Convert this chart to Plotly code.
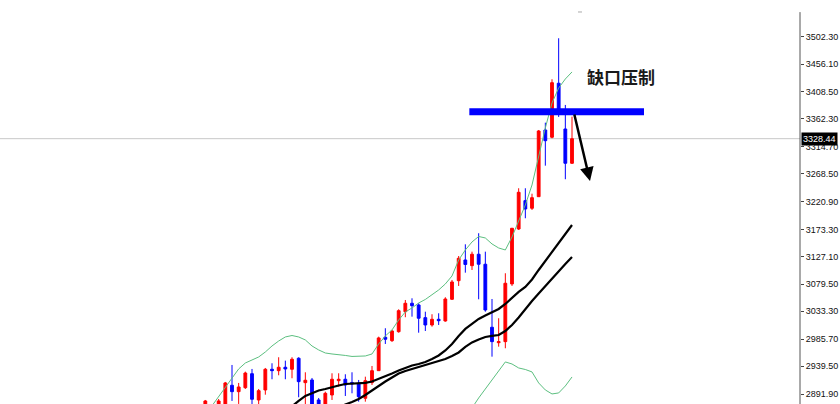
import plotly.graph_objects as go

# ---------------- data ----------------
open_ = [2871.5, 2871.5, 2871.5, 2871.5, 2906.9, 2896.0, 2902.8, 2926.7, 2881.8, 2898.9,
         2934.3, 2931.9, 2937.7, 2934.3, 2953.1, 2911.4, 2916.0, 2881.8, 2871.5, 2890.3,
         2914.8, 2917.2, 2911.7, 2910.3, 2884.7, 2911.4, 2931.9, 2989.0, 2983.2, 2998.5,
         3032.7, 3047.1, 3044.2, 3022.5, 3010.0, 3019.7, 3016.8, 3053.9, 3085.7, 3121.1,
         3111.4, 3130.9, 3113.8, 3006.1, 2979.7, 2981.5, 3080.1, 3174.1, 3222.5, 3209.5,
         3229.3, 3343.3, 3330.9, 3423.2, 3345.0, 3286.4]
high = [2881.8, 2873.2, 2883.5, 2912.6, 2941.6, 2910.9, 2930.2, 2934.8, 2900.6, 2936.5,
        2944.5, 2954.8, 2949.0, 2954.8, 2954.8, 2929.1, 2919.4, 2885.2, 2896.0, 2927.4,
        2927.4, 2925.7, 2929.1, 2916.0, 2921.6, 2939.9, 2990.0, 3004.4, 3001.5, 3036.8,
        3052.7, 3055.6, 3047.1, 3032.7, 3028.3, 3030.0, 3057.4, 3086.9, 3127.9, 3147.9,
        3135.3, 3166.8, 3135.3, 3054.4, 3021.5, 3098.4, 3175.8, 3243.7, 3243.7, 3234.4,
        3343.3, 3355.8, 3430.0, 3500.1, 3386.1, 3366.1]
low = [2864.7, 2857.9, 2868.1, 2868.1, 2880.1, 2875.0, 2900.6, 2871.5, 2871.5, 2890.8,
       2917.2, 2924.0, 2917.2, 2918.9, 2886.4, 2871.5, 2864.7, 2864.7, 2868.1, 2881.8,
       2904.5, 2888.6, 2893.2, 2878.9, 2878.9, 2907.4, 2931.4, 2977.5, 2980.9, 2996.8,
       3023.2, 3024.2, 2996.8, 2999.7, 3007.1, 3010.0, 3015.6, 3052.7, 3076.7, 3099.4,
       3104.0, 3053.9, 3032.7, 2955.8, 2972.9, 2970.2, 3076.7, 3172.4, 3192.4, 3206.6,
       3228.8, 3282.3, 3329.1, 3365.6, 3259.1, 3285.2]
close = [2880.1, 2863.0, 2880.1, 2910.9, 2896.0, 2904.0, 2927.9, 2883.0, 2897.7, 2934.3,
         2931.9, 2937.7, 2934.8, 2951.4, 2913.1, 2915.5, 2871.5, 2871.5, 2893.2, 2917.2,
         2917.2, 2907.4, 2909.1, 2887.4, 2914.8, 2931.9, 2987.8, 2985.6, 2999.7, 3034.4,
         3047.1, 3043.0, 3021.5, 3010.0, 3019.7, 3017.3, 3054.4, 3083.5, 3124.0, 3113.4,
         3130.9, 3113.8, 3035.6, 2981.5, 2981.5, 3081.3, 3175.3, 3236.8, 3208.3, 3227.6,
         3341.6, 3325.0, 3424.2, 3374.1, 3286.4, 3328.44]

upper_band = [2856.1, 2871.5, 2888.6, 2902.3, 2919.4, 2934.8, 2945.0, 2950.2, 2955.3, 2963.8,
              2974.1, 2982.6, 2989.5, 2992.0, 2989.5, 2984.4, 2974.1, 2967.3, 2962.1, 2960.4,
              2959.6, 2957.9, 2956.2, 2956.2, 2957.0, 2960.4, 2977.5, 2991.2, 3001.5, 3018.5,
              3032.2, 3039.1, 3047.6, 3053.6, 3061.3, 3069.8, 3080.1, 3093.8, 3121.1, 3138.2,
              3151.9, 3161.3, 3158.7, 3148.5, 3141.6, 3138.2, 3160.4, 3189.5, 3215.1, 3249.3,
              3298.9, 3346.8, 3389.5, 3415.1, 3430.5, 3442.5]
lower_band = [None] * 39 + [2847.6, 2868.1, 2885.2, 2900.6, 2917.7, 2933.1, 2946.8, 2943.3,
                            2936.5, 2933.9, 2929.7, 2910.9, 2898.9, 2892.1, 2893.8, 2905.7, 2921.1]
ma_fast = [None] * 12 + [2862.0, 2871.5, 2880.1, 2888.6, 2893.8, 2898.0, 2900.6, 2904.0, 2906.6,
                         2909.1, 2910.0, 2910.3, 2910.9, 2913.4, 2917.7, 2922.8, 2927.1, 2932.2,
                         2936.5, 2940.8, 2943.3, 2946.8, 2951.9, 2957.9, 2966.4, 2977.5, 2991.2,
                         3003.2, 3011.7, 3020.3, 3026.2, 3031.4, 3037.4, 3045.9, 3057.0, 3066.4,
                         3075.0, 3087.8, 3104.0, 3119.4, 3134.8, 3151.9, 3167.3, 3180.9]
ma_slow = [None] * 20 + [2868.1, 2874.1, 2878.4, 2883.5, 2890.3, 2898.0, 2906.6, 2913.4, 2920.3,
                         2927.1, 2931.4, 2934.8, 2938.2, 2941.6, 2944.2, 2948.5, 2951.9, 2957.0,
                         2963.0, 2972.4, 2980.1, 2985.2, 2989.5, 2991.2, 2992.9, 2999.7, 3010.0,
                         3022.8, 3037.4, 3051.0, 3063.8, 3076.7, 3089.5, 3102.3, 3114.3, 3126.2]

tick_vals = [3502.30, 3456.10, 3408.50, 3362.30, 3314.70, 3268.50, 3220.90, 3173.30,
             3127.10, 3079.50, 3033.30, 2985.70, 2939.50, 2891.90]
tick_text = ["%.2f" % v for v in tick_vals]

last_price = 3328.44
gap_level = 3374.6
label_text = "缺口压制"

x = list(range(len(open_)))

# ---------------- figure ----------------
fig = go.Figure()

band_color = "#5CBF80"
fig.add_trace(go.Scatter(x=x, y=upper_band, mode="lines",
                         line=dict(color=band_color, width=1), hoverinfo="skip"))
fig.add_trace(go.Scatter(x=x, y=lower_band, mode="lines",
                         line=dict(color=band_color, width=1), hoverinfo="skip"))
fig.add_trace(go.Scatter(x=x, y=ma_fast, mode="lines",
                         line=dict(color="#000000", width=2.2), hoverinfo="skip"))
fig.add_trace(go.Scatter(x=x, y=ma_slow, mode="lines",
                         line=dict(color="#000000", width=2.2), hoverinfo="skip"))

fig.add_trace(go.Candlestick(
    x=x, open=open_, high=high, low=low, close=close,
    increasing=dict(line=dict(color="#FF0000", width=1), fillcolor="#FF0000"),
    decreasing=dict(line=dict(color="#0000FF", width=1), fillcolor="#0000FF"),
    whiskerwidth=0,
))

y_min, y_max = 2874.9, 3565.5

shapes = [
    # current price line
    dict(type="line", xref="paper", x0=0, x1=1, yref="y", y0=last_price, y1=last_price,
         line=dict(color="#C8C8C8", width=1), layer="below"),
    # right axis line
    dict(type="line", xref="paper", x0=1, x1=1, yref="paper", y0=0, y1=0.97,
         line=dict(color="#555555", width=1)),
    # gap resistance bar
    dict(type="line", xref="x", x0=39.6, x1=65.8, yref="y", y0=gap_level, y1=gap_level,
         line=dict(color="#0000FF", width=7)),
    # small mark at top
    dict(type="line", xref="x", x0=55.9, x1=56.5, yref="y", y0=3545.0, y1=3545.0,
         line=dict(color="#AAAAAA", width=1)),
]

annotations = [
    dict(x=57.7, y=3256.1, ax=55.3, ay=3372.4, xref="x", yref="y", axref="x", ayref="y",
         showarrow=True, arrowhead=2, arrowsize=1.1, arrowwidth=2.5, arrowcolor="#000000", text=""),
    dict(x=62.4, y=3433.9, xref="x", yref="y", text="<b>" + label_text + "</b>", showarrow=False,
         font=dict(family="Noto Sans CJK SC", size=17, color="#1a1a1a"), xanchor="center",
         yanchor="middle"),
    dict(x=1, xref="paper", y=last_price, yref="y", text=format(last_price, ".2f"),
         showarrow=False, xanchor="left", yanchor="middle", xshift=1,
         bgcolor="#000000", borderpad=1,
         font=dict(family="Liberation Sans", size=9, color="#FFFFFF")),
]

fig.update_layout(
    width=840, height=404,
    margin=dict(l=0, r=40, t=0, b=0),
    paper_bgcolor="white", plot_bgcolor="white",
    showlegend=False,
    boxgap=0.4,
    xaxis=dict(visible=False, range=[-30.8, 89.2], rangeslider=dict(visible=False),
               fixedrange=True),
    yaxis=dict(side="right", range=[y_min, y_max], showgrid=False, zeroline=False,
               tickmode="array", tickvals=tick_vals, ticktext=tick_text,
               ticks="outside", ticklen=3, tickcolor="#444444", showline=False,
               automargin=False,
               tickfont=dict(family="Liberation Sans", size=9, color="#111111")),
    shapes=shapes,
    annotations=annotations,
)

fig.write_html("out.html", config={"displayModeBar": False},
               post_script="document.body.style.margin='0';document.body.style.overflow='hidden';")
